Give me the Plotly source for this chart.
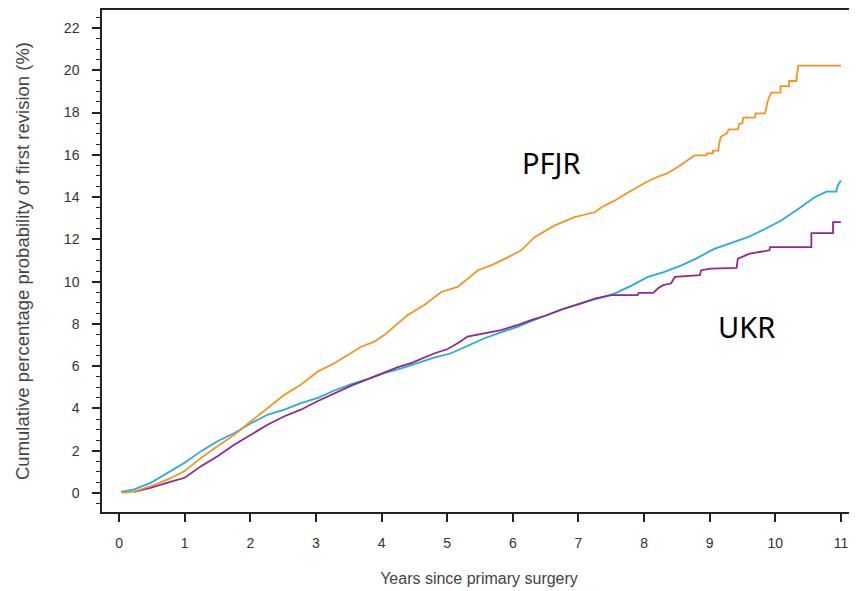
import plotly.graph_objects as go

# Cumulative revision curves (years, %)
pfjr_years = [0.05, 0.23, 0.49, 0.74, 1.0, 1.25, 1.5, 1.76, 2.01, 2.27, 2.52, 2.77, 3.03, 3.28,
              3.54, 3.69, 3.89, 4.04, 4.40, 4.65, 4.91, 5.16, 5.47, 5.67, 5.93, 6.13, 6.33, 6.64,
              6.94, 7.25, 7.35, 7.55, 7.8, 8.06, 8.21, 8.36, 8.52, 8.67, 8.77, 8.95, 8.96, 9.05,
              9.05, 9.13, 9.14, 9.17, 9.2, 9.26, 9.29, 9.43, 9.45, 9.5, 9.51, 9.69, 9.7, 9.84,
              9.86, 9.88, 9.91, 9.94, 10.08, 10.08, 10.21, 10.21, 10.32, 10.33, 10.35, 11.0]
pfjr_pct = [0.0, 0.06, 0.33, 0.64, 1.04, 1.66, 2.21, 2.76, 3.39, 4.02, 4.65, 5.12, 5.75, 6.14,
            6.61, 6.92, 7.16, 7.47, 8.42, 8.89, 9.51, 9.75, 10.54, 10.77, 11.16, 11.48, 12.1, 12.66,
            13.05, 13.28, 13.52, 13.83, 14.3, 14.75, 14.96, 15.13, 15.43, 15.76, 15.97, 15.97, 16.07, 16.07,
            16.2, 16.2, 16.45, 16.85, 16.9, 17.0, 17.2, 17.2, 17.45, 17.5, 17.76, 17.76, 17.96, 17.96,
            18.15, 18.5, 18.75, 18.94, 18.94, 19.25, 19.25, 19.49, 19.49, 19.88, 20.22, 20.22]

tkr_years = [0.03, 0.23, 0.49, 0.74, 1.0, 1.25, 1.5, 1.76, 2.01, 2.27, 2.52, 2.77, 3.03, 3.28,
             3.54, 3.8, 4.04, 4.3, 4.55, 4.8, 5.06, 5.3, 5.57, 5.82, 6.08, 6.3, 6.53, 6.75,
             7.04, 7.3, 7.55, 7.8, 8.06, 8.3, 8.57, 8.8, 9.07, 9.3, 9.58, 9.85, 10.09, 10.35,
             10.6, 10.78, 10.93, 10.95, 11.0]
tkr_pct = [0.05, 0.17, 0.49, 0.96, 1.43, 1.98, 2.45, 2.84, 3.3, 3.71, 3.94, 4.25, 4.5, 4.85,
           5.15, 5.4, 5.67, 5.9, 6.14, 6.4, 6.61, 6.95, 7.32, 7.6, 7.87, 8.15, 8.42, 8.7,
           8.97, 9.2, 9.43, 9.8, 10.22, 10.45, 10.77, 11.1, 11.55, 11.8, 12.1, 12.5, 12.89, 13.44,
           13.99, 14.26, 14.26, 14.54, 14.78]

ukr_years = [0.23, 0.49, 0.74, 1.0, 1.25, 1.5, 1.76, 2.01, 2.27, 2.52, 2.77, 3.03, 3.28, 3.54,
             3.8, 4.04, 4.25, 4.45, 4.65, 4.81, 5.0, 5.16, 5.31, 5.57, 5.82, 6.08, 6.3, 6.53,
             6.75, 7.04, 7.25, 7.5, 7.9, 7.92, 8.14, 8.21, 8.29, 8.41, 8.47, 8.85, 8.87, 9.02,
             9.41, 9.43, 9.61, 9.91, 9.92, 10.55, 10.55, 10.88, 10.88, 11.0]
ukr_pct = [0.05, 0.25, 0.49, 0.72, 1.27, 1.74, 2.29, 2.76, 3.24, 3.63, 3.94, 4.35, 4.72, 5.08,
           5.4, 5.7, 5.95, 6.14, 6.4, 6.61, 6.8, 7.08, 7.4, 7.55, 7.71, 7.95, 8.2, 8.42,
           8.68, 8.97, 9.2, 9.36, 9.36, 9.47, 9.47, 9.67, 9.83, 9.91, 10.22, 10.3, 10.54, 10.61,
           10.65, 11.09, 11.32, 11.48, 11.63, 11.63, 12.29, 12.29, 12.81, 12.81]

ORANGE = '#F7941D'
BLUE = '#27AAE1'
PURPLE = '#92278F'
AXIS = '#222222'
TICK_TEXT = '#333333'

fig = go.Figure()

for xs, ys, color, name in [(tkr_years, tkr_pct, BLUE, 'TKR'),
                            (ukr_years, ukr_pct, PURPLE, 'UKR'),
                            (pfjr_years, pfjr_pct, ORANGE, 'PFJR')]:
    fig.add_trace(go.Scatter(
        x=xs, y=ys, mode='lines', name=name,
        line=dict(color=color, width=1.8),
        hoverinfo='skip'
    ))

fig.add_annotation(x=6.59, y=15.64, text='PFJR', showarrow=False,
                   font=dict(family='Noto Sans', size=29, color='black'))
fig.add_annotation(x=9.56, y=7.87, text='UKR', showarrow=False,
                   font=dict(family='Noto Sans', size=29, color='black'))

fig.update_layout(
    width=857, height=591,
    plot_bgcolor='white', paper_bgcolor='white',
    showlegend=False,
    font=dict(family='Liberation Sans, Arial', size=14, color=TICK_TEXT),
    margin=dict(l=94, r=9, t=0, b=87),
    xaxis=dict(
        range=[-0.26, 11.23], tick0=0, dtick=1,
        showgrid=False, zeroline=False,
        showline=True, mirror=True, linecolor=AXIS, linewidth=1.5,
        ticks='outside', ticklen=8, tickwidth=1.5, tickcolor=AXIS,
        ticklabelstandoff=9,
        tickfont=dict(size=14, color=TICK_TEXT),
        title=dict(text='Years since primary surgery', standoff=23,
                   font=dict(size=16, color='#444444'))
    ),
    yaxis=dict(
        range=[-0.9, 22.85], tick0=0, dtick=2,
        showgrid=False, zeroline=False,
        showline=True, mirror=True, linecolor=AXIS, linewidth=1.5,
        ticks='outside', ticklen=8, tickwidth=1.5, tickcolor=AXIS,
        ticklabelstandoff=10,
        minor=dict(dtick=0.5, tick0=0, ticks='outside', ticklen=4, tickwidth=1.2,
                   tickcolor=AXIS, showgrid=False),
        tickfont=dict(size=14, color=TICK_TEXT),
        title=dict(text='Cumulative percentage probability of first revision (%)', standoff=29,
                   font=dict(size=18.5, color='#444444'))
    ),
)

fig.write_html("out.html")
